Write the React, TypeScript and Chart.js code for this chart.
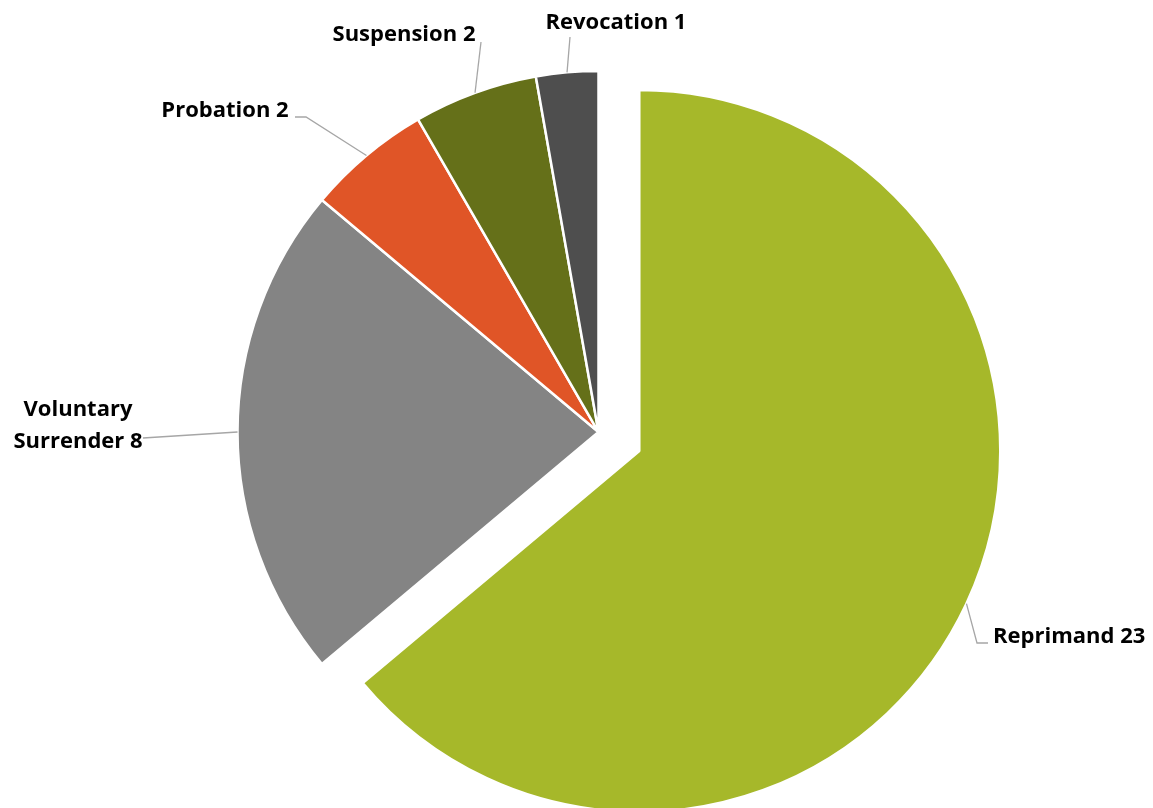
import React, { useEffect, useRef } from "react";
import { Chart, registerables } from "chart.js";

Chart.register(...registerables);

const categories = ["Reprimand", "Voluntary Surrender", "Probation", "Suspension", "Revocation"];
const counts = [23, 8, 2, 2, 1];
const colors = ["#A6B82A", "#848484", "#E05527", "#657019", "#4E4E4E"];
const explode = [45, 0, 0, 0, 0];

// label layout: text lines, text baseline point, alignment, leader path points (after arc anchor)
const labelLayout = [
  { lines: ["Reprimand 23"], x: 993, y: 643, align: "left", path: [[977, 643], [988, 643]] },
  { lines: ["Voluntary", "Surrender 8"], x: 78, y: 416, align: "center", path: [[143, 438]] },
  { lines: ["Probation 2"], x: 225, y: 117, align: "center", path: [[306, 117], [295, 117]] },
  { lines: ["Suspension 2"], x: 404, y: 41, align: "center", path: [[481, 42]] },
  { lines: ["Revocation 1"], x: 616, y: 29, align: "center", path: [[570, 37]] },
];

const explodePlugin = {
  id: "explodeSlices",
  afterDatasetUpdate(chart: any, args: any) {
    args.meta.data.forEach((arc: any, i: number) => {
      const d = explode[i] || 0;
      if (!d || arc._exploded) return;
      const orig = arc.draw.bind(arc);
      arc.draw = (ctx: CanvasRenderingContext2D) => {
        const mid = (arc.startAngle + arc.endAngle) / 2;
        ctx.save();
        ctx.translate(Math.cos(mid) * d, Math.sin(mid) * d);
        orig(ctx);
        ctx.restore();
      };
      arc._exploded = true;
    });
  },
};

const labelPlugin = {
  id: "outLabels",
  afterDatasetsDraw(chart: any) {
    const ctx = chart.ctx;
    const meta = chart.getDatasetMeta(0);
    ctx.save();
    meta.data.forEach((arc: any, i: number) => {
      const mid = (arc.startAngle + arc.endAngle) / 2;
      const off = explode[i] || 0;
      const cx = arc.x + Math.cos(mid) * off;
      const cy = arc.y + Math.sin(mid) * off;
      const ax = cx + Math.cos(mid) * arc.outerRadius;
      const ay = cy + Math.sin(mid) * arc.outerRadius;
      const L = labelLayout[i];
      ctx.strokeStyle = "#A6A6A6";
      ctx.lineWidth = 1.3;
      ctx.beginPath();
      ctx.moveTo(ax, ay);
      L.path.forEach((pt) => ctx.lineTo(pt[0], pt[1]));
      ctx.stroke();
      ctx.fillStyle = "#000000";
      ctx.font = "bold 22px 'Open Sans'";
      ctx.textAlign = L.align as CanvasTextAlign;
      ctx.textBaseline = "alphabetic";
      L.lines.forEach((t, k) => ctx.fillText(t, L.x, L.y + k * 32));
    });
    ctx.restore();
  },
};

export default function App() {
  const ref = useRef<HTMLCanvasElement>(null);
  useEffect(() => {
    document.body.style.margin = "0";
    const chart = new Chart(ref.current!, {
      type: "pie",
      data: {
        labels: categories,
        datasets: [
          {
            data: counts,
            backgroundColor: colors,
            borderColor: "#FFFFFF",
            borderWidth: 2.5,
            radius: 361,
          } as any,
        ],
      },
      options: {
        animation: false,
        responsive: true,
        maintainAspectRatio: false,
        layout: { padding: { left: 44, right: 0, top: 56, bottom: 0 } },
        plugins: { legend: { display: false }, tooltip: { enabled: false } },
      },
      plugins: [explodePlugin, labelPlugin],
    });
    return () => chart.destroy();
  }, []);
  return (
    <div style={{ width: 1153, height: 808, position: "relative" }}>
      <canvas ref={ref} />
    </div>
  );
}
